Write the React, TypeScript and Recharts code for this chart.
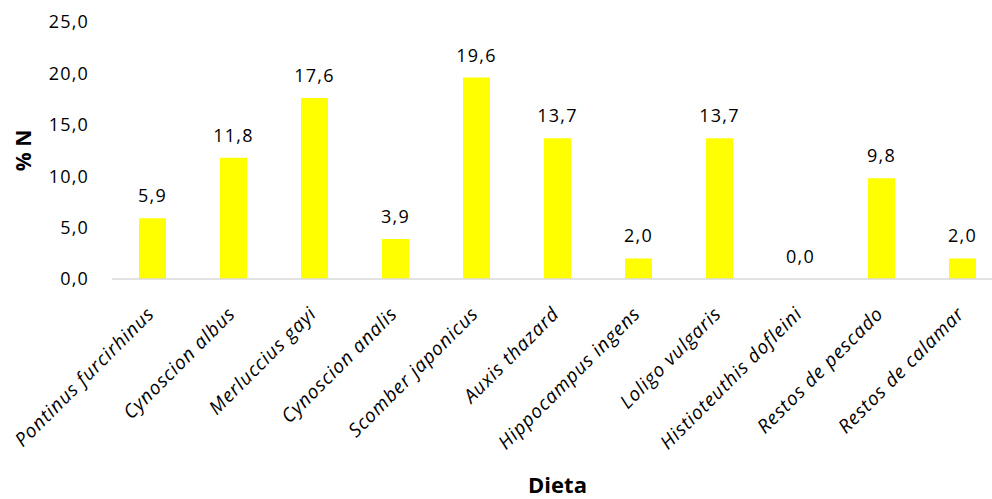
import React from 'react';
import { ComposedChart, Bar, Line, XAxis, YAxis, LabelList, Label } from 'recharts';

const categories = [
  'Pontinus furcirhinus',
  'Cynoscion albus',
  'Merluccius gayi',
  'Cynoscion analis',
  'Scomber japonicus',
  'Auxis thazard',
  'Hippocampus ingens',
  'Loligo vulgaris',
  'Histioteuthis dofleini',
  'Restos de pescado',
  'Restos de calamar',
];
const percentN = [5.9, 11.8, 17.6, 3.9, 19.6, 13.7, 2.0, 13.7, 0.0, 9.8, 2.0];
const yTicks = [0, 5, 10, 15, 20, 25];

const data = categories.map((name, i) => ({ name, value: percentN[i] }));

const FONT = '"Open Sans", sans-serif';
const fmt = (v: number) => v.toFixed(1).replace('.', ',');
const numStyle = { fontFamily: FONT, fontSize: 18, letterSpacing: 1.2, fill: '#000' };

function SpeciesTick({ x, y, payload }: any) {
  return (
    <g transform={`translate(${x + 3},${y + 28})`}>
      <text
        transform="rotate(-45)"
        textAnchor="end"
        fontFamily={FONT}
        fontStyle="italic"
        fontSize={19}
        letterSpacing={0.9}
        fill="#000"
      >
        {payload.value}
      </text>
    </g>
  );
}

export default function App() {
  return (
    <div style={{ position: 'absolute', left: 0, top: 0, width: 992, height: 499, overflow: 'hidden', background: '#fff' }}>
      <ComposedChart
        width={1010}
        height={499}
        data={data}
        margin={{ top: 22, right: 7, bottom: 0, left: 40 }}
        barCategoryGap="33%"
      >
        <YAxis
          width={72}
          domain={[0, 25]}
          ticks={yTicks}
          tickFormatter={fmt}
          axisLine={false}
          tickLine={false}
          tickSize={0}
          tickMargin={23}
          tick={numStyle}
        >
          <Label
            value="% N"
            angle={-90}
            position="center"
            dx={-52}
            style={{ fontFamily: FONT, fontSize: 21, fontWeight: 700, fill: '#000' }}
          />
        </YAxis>
        <XAxis
          dataKey="name"
          height={220}
          interval={0}
          tickLine={false}
          axisLine={{ stroke: '#d9d9d9', strokeWidth: 1.5 }}
          tick={<SpeciesTick />}
        >
          <Label
            content={({ viewBox }: any) => (
              <text
                x={viewBox.x + viewBox.width / 2}
                y={viewBox.y + viewBox.height - 6}
                textAnchor="middle"
                fontFamily={FONT}
                fontSize={22}
                fontWeight={700}
                fill="#000"
              >
                Dieta
              </text>
            )}
          />
        </XAxis>
        <Bar dataKey="value" fill="#ffff00" barSize={27} isAnimationActive={false} />
        {/* invisible series carrying the value labels, so the 0,0 label still shows */}
        <Line
          dataKey="value"
          stroke="none"
          dot={false}
          activeDot={false}
          legendType="none"
          isAnimationActive={false}
        >
          <LabelList
            dataKey="value"
            position="top"
            offset={16}
            formatter={(v: any) => fmt(Number(v))}
            style={numStyle}
          />
        </Line>
      </ComposedChart>
    </div>
  );
}
